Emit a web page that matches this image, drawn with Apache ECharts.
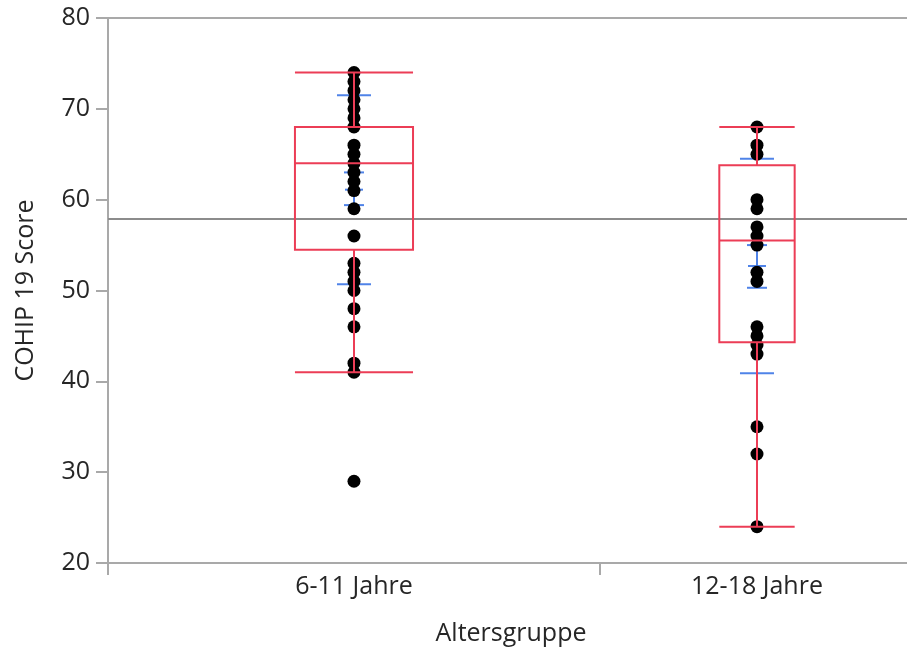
<!DOCTYPE html>
<html>
<head>
<meta charset="utf-8">
<script src="https://cdn.jsdelivr.net/npm/echarts@6/dist/echarts.min.js"></script>
<style>
html, body { margin: 0; padding: 0; background: #fff; }
#chart { width: 907px; height: 648px; }
</style>
</head>
<body>
<div id="chart"></div>
<script>
// ---- data ----
const categories = ['6-11 Jahre', '12-18 Jahre'];
const groupSizes = [47, 30];            // JMP draws group widths proportional to group size
const yTicks = [20, 30, 40, 50, 60, 70, 80];
const group1Scores = [74, 73, 72, 71, 70, 69, 68, 66, 65, 64, 63, 62, 61, 59, 56, 53, 52, 51, 50, 48, 46, 42, 41, 29];
const group2Scores = [68, 66, 65, 60, 59, 57, 56, 55, 52, 51, 46, 45, 44, 43, 35, 32, 24];
// [min whisker, Q1, median, Q3, max whisker]
const group1Box = [41, 54.5, 64, 68, 74];
const group2Box = [24, 44.3, 55.5, 63.8, 68];
const groupMeans = [61.1, 52.7];
const meanErrLow = [59.4, 50.3];
const meanErrHigh = [63.0, 55.0];
const sdLow = [50.7, 40.9];
const sdHigh = [71.5, 64.5];
const grandMean = 57.9;

// ---- derived positions ----
const starts = [0, groupSizes[0]];
const centers = groupSizes.map((n, i) => starts[i] + n / 2);
const xMax = groupSizes[0] + groupSizes[1];
const boxes = [group1Box, group2Box];

const RED = '#ec3d56';
const BLUE = '#4f83e8';
const GRAY = '#a9a9a9';
const TEXT = '#262626';
const FONT = '"Open Sans", "Noto Sans", sans-serif';
const BOX_FRAC = 0.24;

const boxData = centers.map((c, i) => [c, groupSizes[i]].concat(boxes[i]));
const blueData = centers.map((c, i) => [c, groupMeans[i], meanErrLow[i], meanErrHigh[i], sdLow[i], sdHigh[i]]);
const dotData = group1Scores.map(v => [centers[0], v]).concat(group2Scores.map(v => [centers[1], v]));

function boxFill(params, api) {
  const xc = api.value(0), hw = api.value(1) * BOX_FRAC / 2;
  const tl = api.coord([xc - hw, api.value(5)]);
  const br = api.coord([xc + hw, api.value(3)]);
  return { type: 'rect', shape: { x: tl[0], y: tl[1], width: br[0] - tl[0], height: br[1] - tl[1] },
           style: { fill: '#fff', stroke: null } };
}

function boxLines(params, api) {
  const xc = api.value(0), hw = api.value(1) * BOX_FRAC / 2;
  const mn = api.value(2), q1 = api.value(3), md = api.value(4), q3 = api.value(5), mx = api.value(6);
  const st = { stroke: RED, lineWidth: 2, fill: null };
  const L = (x1, y1, x2, y2) => {
    const a = api.coord([x1, y1]), b = api.coord([x2, y2]);
    return { type: 'line', shape: { x1: a[0], y1: a[1], x2: b[0], y2: b[1] }, style: st };
  };
  const tl = api.coord([xc - hw, q3]);
  const br = api.coord([xc + hw, q1]);
  return { type: 'group', children: [
    { type: 'rect', shape: { x: tl[0], y: tl[1], width: br[0] - tl[0], height: br[1] - tl[1] }, style: st },
    L(xc - hw, md, xc + hw, md),
    L(xc, q3, xc, mx),
    L(xc, q1, xc, mn),
    L(xc - hw, mx, xc + hw, mx),
    L(xc - hw, mn, xc + hw, mn)
  ] };
}

function blueMarks(params, api) {
  const xc = api.value(0);
  const st = { stroke: BLUE, lineWidth: 2, fill: null };
  const px = api.coord([xc, 50])[0];
  const y = v => api.coord([xc, v])[1];
  const H = (v, half) => ({ type: 'line', shape: { x1: px - half, y1: y(v), x2: px + half, y2: y(v) }, style: st });
  return { type: 'group', children: [
    { type: 'line', shape: { x1: px, y1: y(api.value(2)), x2: px, y2: y(api.value(3)) }, style: st },
    H(api.value(1), 9),
    H(api.value(2), 10),
    H(api.value(3), 10),
    H(api.value(4), 17),
    H(api.value(5), 17)
  ] };
}

const chart = echarts.init(document.getElementById('chart'), null, { renderer: 'canvas' });
chart.setOption({
  animation: false,
  backgroundColor: '#fff',
  grid: { left: 108, width: 806, top: 18, bottom: 85, containLabel: false, outerBoundsMode: 'none',
          show: true, borderColor: GRAY, borderWidth: 2, backgroundColor: 'transparent' },
  xAxis: {
    type: 'value', min: 0, max: xMax,
    name: 'Altersgruppe', nameLocation: 'middle', nameGap: 58,
    nameTextStyle: { fontFamily: FONT, fontSize: 25, color: TEXT, verticalAlign: 'top' },
    axisLine: { show: true, lineStyle: { color: GRAY, width: 2 } },
    axisTick: { show: true, inside: false, length: 12, customValues: [0, starts[1], xMax], lineStyle: { color: GRAY, width: 2 } },
    axisLabel: { show: true, margin: 11, customValues: centers, fontFamily: FONT, fontSize: 25, color: TEXT,
                 formatter: v => categories[centers.indexOf(v)] },
    splitLine: { show: false }
  },
  yAxis: {
    type: 'value', min: yTicks[0], max: yTicks[yTicks.length - 1], interval: 10,
    name: 'COHIP 19 Score', nameLocation: 'middle', nameGap: 70, nameRotate: 90,
    nameTextStyle: { fontFamily: FONT, fontSize: 25, color: TEXT },
    axisLine: { show: true, lineStyle: { color: GRAY, width: 2 } },
    axisTick: { show: true, inside: false, length: 12, lineStyle: { color: GRAY, width: 2 } },
    axisLabel: { margin: 18, fontFamily: FONT, fontSize: 25, color: TEXT },
    splitLine: { show: false }
  },
  series: [
    { type: 'line', data: [], z: 1, silent: true,
      markLine: { silent: true, symbol: 'none', label: { show: false },
                  lineStyle: { color: '#8c8c8c', width: 2, type: 'solid' },
                  data: [{ yAxis: grandMean }] } },
    { type: 'custom', z: 2, renderItem: boxFill, data: boxData, encode: { x: 0, y: [2, 3, 4, 5, 6] }, silent: true },
    { type: 'custom', z: 3, renderItem: blueMarks, data: blueData, encode: { x: 0, y: [1, 2, 3, 4, 5] }, silent: true },
    { type: 'scatter', z: 4, data: dotData, symbol: 'circle', symbolSize: 13, itemStyle: { color: '#000', opacity: 1 }, silent: true },
    { type: 'custom', z: 5, renderItem: boxLines, data: boxData, encode: { x: 0, y: [2, 3, 4, 5, 6] }, silent: true }
  ]
});
</script>
</body>
</html>
